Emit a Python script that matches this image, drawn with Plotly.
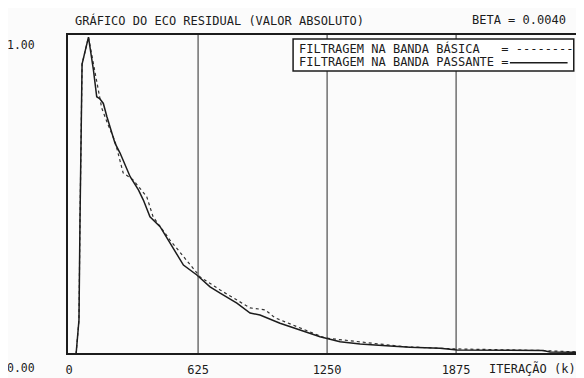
import plotly.graph_objects as go

# Data (iteration k, normalized |residual echo|)
k_passante = [34, 48, 53, 63, 94, 118, 134, 150, 166, 183, 223, 247, 296, 336, 360, 392, 441,
              489, 554, 619, 683, 732, 813, 877, 925, 1022, 1119, 1216, 1313, 1410, 1555, 1652,
              1797, 1880, 2297, 2330, 2485]
eco_passante = [0.0, 0.106, 0.419, 0.906, 0.99, 0.888, 0.804, 0.797, 0.783, 0.742, 0.658, 0.628,
                0.554, 0.513, 0.481, 0.429, 0.398, 0.347, 0.278, 0.247, 0.210, 0.190, 0.159,
                0.128, 0.122, 0.096, 0.075, 0.054, 0.038, 0.031, 0.025, 0.021, 0.018, 0.0125,
                0.011, 0.006, 0.005]

k_basica = [34, 48, 53, 63, 94, 110, 134, 158, 189, 223, 262, 310, 376, 407, 489, 635, 732, 877,
            950, 998, 1071, 1240, 1507, 1618, 1870, 2282, 2485]
eco_basica = [0.0, 0.106, 0.419, 0.906, 0.99, 0.934, 0.841, 0.769, 0.716, 0.664, 0.566, 0.544,
              0.492, 0.429, 0.356, 0.241, 0.2, 0.144, 0.138, 0.113, 0.094, 0.05, 0.031, 0.023,
              0.016, 0.011, 0.006]

tick_vals = [0, 625, 1250, 1875]
tick_text = ["0", "625", "1250", "1875"]
y_labels = ["1.00", "0.00"]
y_label_vals = [1, 0]

name_basica = "FILTRAGEM NA BANDA BÁSICA"
name_passante = "FILTRAGEM NA BANDA PASSANTE"

FONT = "DejaVu Sans Mono"
INK = "#1c1c1c"

fig = go.Figure()
fig.add_trace(go.Scatter(x=k_basica, y=eco_basica, mode="lines", name=name_basica,
                         line=dict(color="#333333", width=1.2, dash="dot"), showlegend=False))
fig.add_trace(go.Scatter(x=k_passante, y=eco_passante, mode="lines", name=name_passante,
                         line=dict(color=INK, width=1.5), showlegend=False))

for v in tick_vals[1:]:
    fig.add_vline(x=v, line=dict(color="#2a2a2a", width=1))

# plot frame
fig.add_shape(type="rect", xref="paper", yref="paper", x0=0, x1=1, y0=0, y1=1,
              line=dict(color=INK, width=2))

# legend box (as in the original print-out)
fig.add_shape(type="rect", xref="paper", yref="paper", x0=0.439, x1=0.984, y0=0.884, y1=0.984,
              line=dict(color=INK, width=1.5), fillcolor="white")
nb = "\u00a0"
fig.add_annotation(xref="paper", yref="paper", x=0.447, y=0.955, xanchor="left", yanchor="middle",
                   text=(name_basica + nb * 3 + "=" + nb + "--------"), showarrow=False,
                   font=dict(family=FONT, size=12, color=INK))
fig.add_annotation(xref="paper", yref="paper", x=0.447, y=0.912, xanchor="left", yanchor="middle",
                   text=(name_passante + nb + "="), showarrow=False,
                   font=dict(family=FONT, size=12, color=INK))
fig.add_shape(type="line", xref="paper", yref="paper", x0=0.860, x1=0.972, y0=0.910, y1=0.910,
              line=dict(color=INK, width=1.5))

# titles
fig.add_annotation(xref="paper", yref="paper", x=0.0117, y=1, yshift=14, xanchor="left",
                   yanchor="middle", text="GRÁFICO DO ECO RESIDUAL (VALOR ABSOLUTO)",
                   showarrow=False, font=dict(family=FONT, size=12, color=INK))
fig.add_annotation(xref="paper", yref="paper", x=0.9816, y=1, yshift=14, xshift=-5,
                   xanchor="right", yanchor="middle", text="BETA = 0.0040",
                   showarrow=False, font=dict(family=FONT, size=12, color=INK))
fig.add_annotation(xref="paper", yref="paper", x=1.0, y=0, yshift=-14, xshift=-4,
                   xanchor="right", yanchor="middle", text="ITERAÇÃO (k)",
                   showarrow=False, font=dict(family=FONT, size=12, color=INK))

for lab, v, ys in zip(y_labels, y_label_vals, [-11, -14]):
    fig.add_annotation(xref="paper", yref="y", x=0, y=v, xshift=-30, yshift=ys,
                       xanchor="right", yanchor="middle", text=lab, showarrow=False,
                       font=dict(family=FONT, size=11.5, color=INK))

# the page body adds an 8 px margin, so the figure is 8 px smaller in each direction
fig.update_layout(
    width=576, height=370,
    margin=dict(l=59, r=2, t=26, b=24),
    paper_bgcolor="#fbfbfb", plot_bgcolor="#fbfbfb",
    xaxis=dict(range=[-10, 2485], tickvals=tick_vals, ticktext=tick_text, showgrid=False,
               zeroline=False, showline=False, ticks="outside", ticklen=5,
               tickcolor="rgba(0,0,0,0)",
               tickfont=dict(family=FONT, size=12, color=INK)),
    yaxis=dict(range=[0, 1.0], showgrid=False, zeroline=False, showline=False,
               showticklabels=False, ticks=""),
)

fig.write_html("out.html")
